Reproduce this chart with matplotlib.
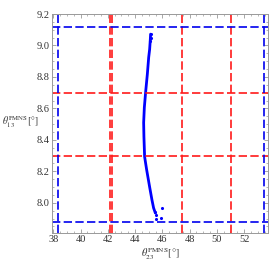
import matplotlib.pyplot as plt
from matplotlib.ticker import MultipleLocator

plt.rcParams['font.family'] = ['Liberation Serif', 'DejaVu Serif']
plt.rcParams['mathtext.fontset'] = 'stix'

# main band of points (theta23, theta13)
curve_t23 = [45.14, 45.12, 45.07, 45.00, 44.90, 44.78, 44.68, 44.63, 44.65,
             44.70, 44.85, 45.07, 45.24, 45.36, 45.49]
curve_t13 = [9.072, 9.04, 8.976, 8.925, 8.817, 8.708, 8.606, 8.51, 8.42,
             8.293, 8.21, 8.10, 8.018, 7.967, 7.935]
# isolated points
iso_t23 = [45.14, 45.16, 45.12, 45.97, 45.88, 45.56, 45.44, 45.50]
iso_t13 = [9.07, 9.05, 9.03, 7.965, 7.905, 7.90, 7.943, 7.92]

# 1sigma (red) and 3sigma (blue) bounds
red_t23 = [42.15, 42.3, 47.47, 51.07]
red_t13 = [8.70, 8.295]
blue_t23 = [38.38, 53.45]
blue_t13 = [9.115, 7.88]

fig = plt.figure(figsize=(2.72, 2.72), dpi=100)
ax = fig.add_axes([0.191, 0.1445, 0.794, 0.804])

ax.plot(curve_t23, curve_t13, color='#0000ff', lw=2.0, solid_capstyle='round')
ax.scatter(iso_t23, iso_t13, s=5, color='#0000ff', lw=0)

dash = (0, (5, 2))
for v in red_t23:
    ax.axvline(v, color='#ff1a1a', lw=1.2, ls=dash)
for v in red_t13:
    ax.axhline(v, color='#ff1a1a', lw=1.2, ls=dash)
for v in blue_t23:
    ax.axvline(v, color='#0000ee', lw=1.2, ls=dash)
for v in blue_t13:
    ax.axhline(v, color='#0000ee', lw=1.2, ls=dash)

ax.set_xlim(37.9, 53.75)
ax.set_ylim(7.81, 9.2)
ax.xaxis.set_major_locator(MultipleLocator(2))
ax.xaxis.set_minor_locator(MultipleLocator(0.5))
ax.yaxis.set_major_locator(MultipleLocator(0.2))
ax.yaxis.set_minor_locator(MultipleLocator(0.05))
ax.tick_params(which='both', direction='in', top=True, right=True,
               color='#999999', labelsize=7.5, labelcolor='#333333')
ax.tick_params(which='major', length=3, width=0.6, pad=2)
ax.tick_params(which='minor', length=1.6, width=0.5)
for s in ax.spines.values():
    s.set_color('#999999')
    s.set_linewidth(0.7)

ax.set_xlabel(r'$\theta_{23}^{\mathrm{PMNS}}[°]$', fontsize=7.5, color='#333333', labelpad=1)
ax.set_ylabel(r'$\theta_{13}^{\mathrm{PMNS}}[°]$', fontsize=7, color='#333333',
              rotation=0, labelpad=0)
ax.yaxis.set_label_coords(-0.148, 0.47)

fig.savefig('out.png', dpi=100)
